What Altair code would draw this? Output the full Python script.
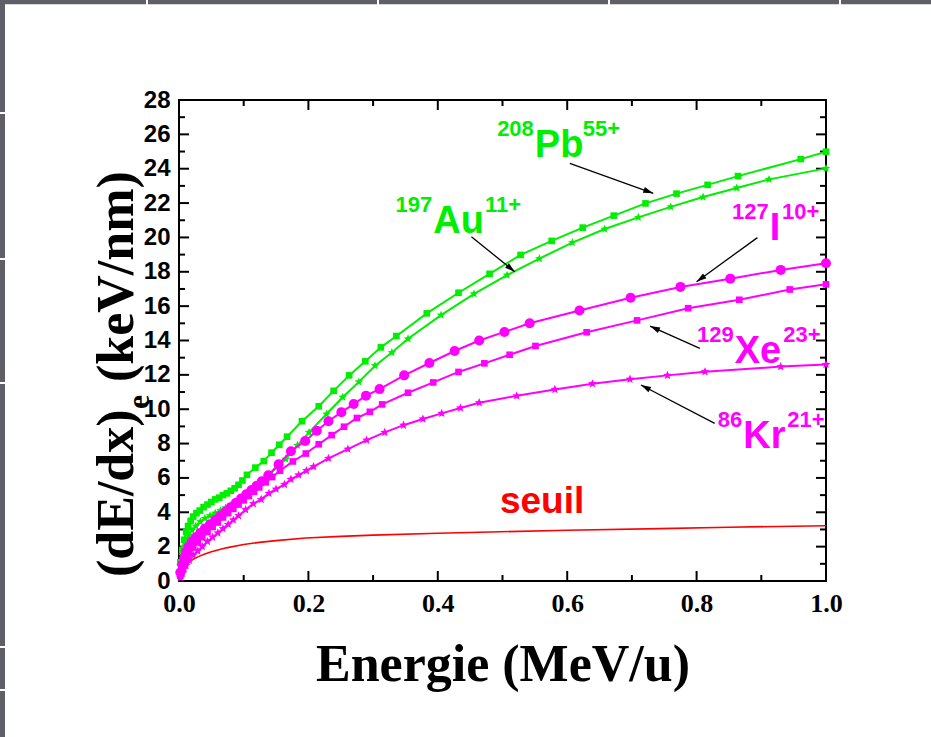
import math
import altair as alt
import pandas as pd

# ---- electronic stopping power (keV/nm) versus energy (MeV/u) ----
pb_E = [0.002, 0.005, 0.008, 0.011, 0.014, 0.018, 0.022, 0.027, 0.032, 0.038, 0.044, 0.050,
        0.056, 0.062, 0.068, 0.074, 0.080, 0.086, 0.092, 0.098, 0.105, 0.118, 0.131, 0.143,
        0.155, 0.167, 0.190, 0.216, 0.239, 0.263, 0.288, 0.312, 0.336, 0.383, 0.432, 0.480,
        0.528, 0.576, 0.624, 0.672, 0.721, 0.769, 0.817, 0.864, 0.961, 1.0]
pb_S = [1.1, 1.8, 2.4, 2.85, 3.2, 3.5, 3.75, 3.95, 4.1, 4.3, 4.45, 4.6,
        4.75, 4.85, 5.0, 5.1, 5.25, 5.4, 5.6, 5.85, 6.18, 6.6, 6.98, 7.47,
        7.93, 8.4, 9.3, 10.17, 11.07, 11.97, 12.79, 13.6, 14.26, 15.58, 16.78, 17.88,
        18.98, 19.8, 20.57, 21.27, 21.98, 22.55, 23.06, 23.57, 24.56, 24.99]

au_E = [0.002, 0.005, 0.008, 0.011, 0.015, 0.020, 0.026, 0.033, 0.040, 0.048, 0.056, 0.064,
        0.072, 0.080, 0.088, 0.096, 0.104, 0.112, 0.120, 0.130, 0.140, 0.152, 0.165, 0.183,
        0.201, 0.228, 0.253, 0.278, 0.303, 0.329, 0.354, 0.405, 0.456, 0.507, 0.557, 0.608,
        0.658, 0.710, 0.760, 0.810, 0.862, 0.912, 1.0]
au_S = [0.9, 1.5, 1.95, 2.3, 2.65, 2.95, 3.2, 3.45, 3.65, 3.8, 3.95, 4.1,
        4.25, 4.4, 4.55, 4.7, 4.95, 5.2, 5.5, 5.85, 6.2, 6.65, 7.1, 7.9,
        8.65, 9.72, 10.7, 11.59, 12.53, 13.3, 14.1, 15.48, 16.71, 17.8, 18.77, 19.7,
        20.49, 21.17, 21.78, 22.35, 22.88, 23.38, 24.02]

i_E = [0.002, 0.005, 0.008, 0.011, 0.015, 0.020, 0.026, 0.033, 0.040, 0.048, 0.056, 0.064,
       0.072, 0.080, 0.088, 0.096, 0.104, 0.112, 0.120, 0.128, 0.138, 0.154, 0.173, 0.195,
       0.213, 0.231, 0.251, 0.270, 0.289, 0.310, 0.348, 0.387, 0.426, 0.464, 0.503, 0.542,
       0.619, 0.698, 0.775, 0.852, 0.930, 1.0]
i_S = [0.5, 0.95, 1.35, 1.7, 2.0, 2.3, 2.55, 2.8, 3.05, 3.3, 3.55, 3.8,
       4.05, 4.3, 4.55, 4.8, 5.05, 5.3, 5.55, 5.8, 6.15, 6.8, 7.55, 8.15,
       8.75, 9.3, 9.83, 10.3, 10.79, 11.17, 11.97, 12.69, 13.39, 14.0, 14.5, 15.0,
       15.75, 16.49, 17.12, 17.6, 18.11, 18.5]

xe_E = [0.002, 0.005, 0.008, 0.011, 0.016, 0.022, 0.029, 0.036, 0.044, 0.052, 0.060, 0.068,
        0.076, 0.084, 0.092, 0.100, 0.108, 0.116, 0.124, 0.134, 0.144, 0.156, 0.176, 0.196,
        0.216, 0.236, 0.255, 0.275, 0.295, 0.314, 0.354, 0.393, 0.432, 0.472, 0.511, 0.551,
        0.630, 0.708, 0.787, 0.866, 0.944, 1.0]
xe_S = [0.3, 0.7, 1.0, 1.25, 1.6, 1.95, 2.25, 2.55, 2.85, 3.15, 3.4, 3.7,
        3.95, 4.2, 4.45, 4.7, 4.95, 5.2, 5.45, 5.75, 6.05, 6.42, 6.96, 7.42,
        7.96, 8.49, 8.98, 9.49, 9.85, 10.28, 10.96, 11.56, 12.17, 12.67, 13.17, 13.68,
        14.48, 15.17, 15.88, 16.37, 16.97, 17.27]

kr_E = [0.002, 0.005, 0.008, 0.011, 0.016, 0.022, 0.029, 0.036, 0.044, 0.052, 0.060, 0.068,
        0.076, 0.084, 0.092, 0.103, 0.115, 0.127, 0.139, 0.150, 0.163, 0.173, 0.185, 0.197,
        0.208, 0.231, 0.261, 0.290, 0.318, 0.347, 0.377, 0.406, 0.435, 0.464, 0.522, 0.581,
        0.639, 0.697, 0.755, 0.813, 0.930, 1.0]
kr_S = [0.2, 0.45, 0.7, 0.9, 1.2, 1.5, 1.75, 2.0, 2.3, 2.55, 2.8, 3.05,
        3.3, 3.55, 3.8, 4.15, 4.5, 4.75, 5.1, 5.35, 5.62, 5.92, 6.17, 6.42,
        6.66, 7.14, 7.68, 8.2, 8.65, 9.07, 9.43, 9.76, 10.07, 10.38, 10.78, 11.15,
        11.48, 11.75, 11.97, 12.18, 12.48, 12.6]

# damage threshold
seuil_E = [0.002, 0.005, 0.01, 0.016, 0.021, 0.03, 0.04, 0.05, 0.073, 0.1, 0.124, 0.15,
           0.196, 0.25, 0.3, 0.4, 0.465, 0.6, 0.743, 0.85, 1.0]
seuil_S = [0.4, 0.65, 0.9, 1.1, 1.25, 1.42, 1.57, 1.7, 1.93, 2.12, 2.25, 2.35,
           2.5, 2.6, 2.67, 2.78, 2.84, 2.95, 3.05, 3.13, 3.22]

# ion labels: symbol, mass number, charge state
ion_sym = ["Pb", "Au", "I", "Xe", "Kr"]
ion_mass = ["208", "197", "127", "129", "86"]
ion_charge = ["55+", "11+", "10+", "23+", "21+"]
ion_color = ["#00ee00", "#00ee00", "#ff00ff", "#ff00ff", "#ff00ff"]
ion_E = [0.550, 0.393, 0.913, 0.859, 0.872]
ion_S = [24.68, 20.26, 19.85, 12.69, 7.74]
ion_charge_E = [0.624, 0.473, 0.932, 0.934, 0.940]

# arrows from each label to its curve (tail -> tip)
arrow_E1 = [0.604, 0.452, 0.894, 0.805, 0.828]
arrow_S1 = [24.31, 20.04, 19.99, 13.54, 9.18]
arrow_E2 = [0.733, 0.519, 0.800, 0.728, 0.714]
arrow_S2 = [22.57, 18.00, 17.42, 14.84, 11.41]

x_major = [0.0, 0.2, 0.4, 0.6, 0.8, 1.0]
x_minor = [0.1, 0.3, 0.5, 0.7, 0.9]
y_major = list(range(0, 29, 2))
y_minor = list(range(1, 28, 2))

W, H = 647, 481
GREEN = "#00ee00"
MAGENTA = "#ff00ff"
RED = "#ff0000"
SANS = "Liberation Sans"
SERIF = "Liberation Serif"

xs = alt.Scale(domain=[0, 1], nice=False, zero=False)
ys = alt.Scale(domain=[0, 28], nice=False, zero=False)
x_axis = alt.Axis(values=x_major, format=".1f", labelFont=SERIF, labelFontSize=26,
                  labelFontWeight="bold", labelColor="black", ticks=False, tickSize=0,
                  domain=False, grid=False, labelPadding=9, labelFlush=False,
                  title="Energie (MeV/u)", titleFont=SERIF, titleFontSize=52,
                  titleFontWeight="bold", titleColor="black", titleY=99,
                  titleBaseline="alphabetic")
y_axis = alt.Axis(values=y_major, labelFont=SANS, labelFontSize=24, labelFontWeight="bold",
                  labelColor="black", ticks=False, tickSize=0, domain=False, grid=False,
                  labelPadding=9, labelFlush=False, title=None)
X = alt.X("E:Q", scale=xs, axis=x_axis)
Y = alt.Y("S:Q", scale=ys, axis=y_axis)


def frame(df_cols):
    return pd.DataFrame(df_cols)


layers = []

# window border strips
BORDER = "#5e5f67"
for a, b in [(-179, -33), (-31, 198), (200, 429), (431, 660), (662, 752)]:
    layers.append(alt.Chart(frame({"k": [0]})).mark_rule(color=BORDER, strokeWidth=4.5)
                  .encode(x=alt.value(a), x2=alt.value(b), y=alt.value(-98)))
for a, b in [(-100, 12), (14, 158), (160, 282), (284, 546), (548, 589), (591, 637)]:
    layers.append(alt.Chart(frame({"k": [0]})).mark_rule(color=BORDER, strokeWidth=5)
                  .encode(y=alt.value(a), y2=alt.value(b), x=alt.value(-176.5)))

# inward ticks on all four sides
for vals, ln in [(y_major, 10), (y_minor, 6)]:
    d = frame({"S": vals})
    layers.append(alt.Chart(d).mark_rule(color="black", strokeWidth=2)
                  .encode(y=Y, x=alt.value(0), x2=alt.value(ln)))
    layers.append(alt.Chart(d).mark_rule(color="black", strokeWidth=2)
                  .encode(y=Y, x=alt.value(W), x2=alt.value(W - ln)))
for vals, ln in [(x_major, 10), (x_minor, 6)]:
    d = frame({"E": vals})
    layers.append(alt.Chart(d).mark_rule(color="black", strokeWidth=2)
                  .encode(x=X, y=alt.value(H), y2=alt.value(H - ln)))
    layers.append(alt.Chart(d).mark_rule(color="black", strokeWidth=2)
                  .encode(x=X, y=alt.value(0), y2=alt.value(ln)))

# threshold curve
layers.append(alt.Chart(frame({"E": seuil_E, "S": seuil_S}))
              .mark_line(color=RED, strokeWidth=1.6).encode(x=X, y=Y))

star_pts = []
for k in range(10):
    r = 1.0 if k % 2 == 0 else 0.45
    a = math.radians(-90 + 36 * k)
    star_pts.append(f"{r * math.cos(a):.3f},{r * math.sin(a):.3f}")
STAR = "M" + "L".join(star_pts) + "Z"

series = [
    (pb_E, pb_S, GREEN, "square", 44),
    (au_E, au_S, GREEN, STAR, 80),
    (kr_E, kr_S, MAGENTA, STAR, 85),
    (xe_E, xe_S, MAGENTA, "square", 44),
    (i_E, i_S, MAGENTA, "circle", 100),
]
for e, s, col, shape, size in series:
    d = frame({"E": e, "S": s})
    layers.append(alt.Chart(d).mark_line(color=col, strokeWidth=2).encode(x=X, y=Y))
    layers.append(alt.Chart(d).mark_point(shape=shape, filled=True, size=size, color=col,
                                          opacity=1, strokeWidth=0).encode(x=X, y=Y))

# arrows
arr = frame({"E": arrow_E1, "S": arrow_S1, "E2": arrow_E2, "S2": arrow_S2})
arr["ang"] = [
    math.degrees(math.atan2((e2 - e1) * W, (s2 - s1) * H / 28.0)) % 360
    for e1, s1, e2, s2 in zip(arrow_E1, arrow_S1, arrow_E2, arrow_S2)
]
layers.append(alt.Chart(arr).mark_rule(color="black", strokeWidth=1.3)
              .encode(x=X, y=Y, x2="E2:Q", y2="S2:Q"))
heads = frame({"E": arrow_E2, "S": arrow_S2, "ang": arr["ang"]})
layers.append(alt.Chart(heads).mark_point(shape="M0,0L-0.6,2L0.6,2Z", size=100, filled=True,
                                          color="black", opacity=1, strokeWidth=0)
              .encode(x=X, y=Y, angle=alt.Angle("ang:Q", scale=None)))

# ion labels with superscripts
lab = frame({"E": ion_E, "S": ion_S, "sym": ion_sym, "mass": ion_mass,
             "col": ion_color})
chg = frame({"E": ion_charge_E, "S": ion_S, "charge": ion_charge, "col": ion_color})
layers.append(alt.Chart(lab).mark_text(font=SANS, fontSize=38, fontWeight="bold",
                                       align="left", baseline="alphabetic")
              .encode(x=X, y=Y, text="sym:N", color=alt.Color("col:N", scale=None)))
layers.append(alt.Chart(lab).mark_text(font=SANS, fontSize=22, fontWeight="bold",
                                       align="right", baseline="alphabetic", dy=-21, dx=-1)
              .encode(x=X, y=Y, text="mass:N", color=alt.Color("col:N", scale=None)))
layers.append(alt.Chart(chg).mark_text(font=SANS, fontSize=22, fontWeight="bold",
                                       align="left", baseline="alphabetic", dy=-21)
              .encode(x=X, y=Y, text="charge:N", color=alt.Color("col:N", scale=None)))
layers.append(alt.Chart(frame({"E": [0.496], "S": [3.96], "t": ["seuil"]}))
              .mark_text(font=SANS, fontSize=37, fontWeight="bold", align="left",
                         baseline="alphabetic", color=RED)
              .encode(x=X, y=Y, text="t:N"))

# y-axis title with subscript e
one = frame({"k": [0]})
layers.append(alt.Chart(one).mark_text(font=SERIF, fontSize=52, fontWeight="bold", angle=270,
                                       align="left", baseline="alphabetic", color="black")
              .encode(x=alt.value(-46), y=alt.value(477), text=alt.value("(dE/dx)")))
layers.append(alt.Chart(one).mark_text(font=SERIF, fontSize=32, fontWeight="bold", angle=270,
                                       align="center", baseline="alphabetic", color="black")
              .encode(x=alt.value(-30), y=alt.value(302), text=alt.value("e")))
layers.append(alt.Chart(one).mark_text(font=SERIF, fontSize=52, fontWeight="bold", angle=270,
                                       align="left", baseline="alphabetic", color="black")
              .encode(x=alt.value(-46), y=alt.value(282), text=alt.value("(keV/nm)")))

chart = (
    alt.layer(*layers)
    .properties(width=W, height=H,
                autosize=alt.AutoSizeParams(type="none"),
                padding={"left": 179, "top": 100, "right": 105, "bottom": 156},
                background="white")
    .configure_view(stroke="black", strokeWidth=2)
)

chart.save("out.html", embed_options={"renderer": "svg", "actions": False})
